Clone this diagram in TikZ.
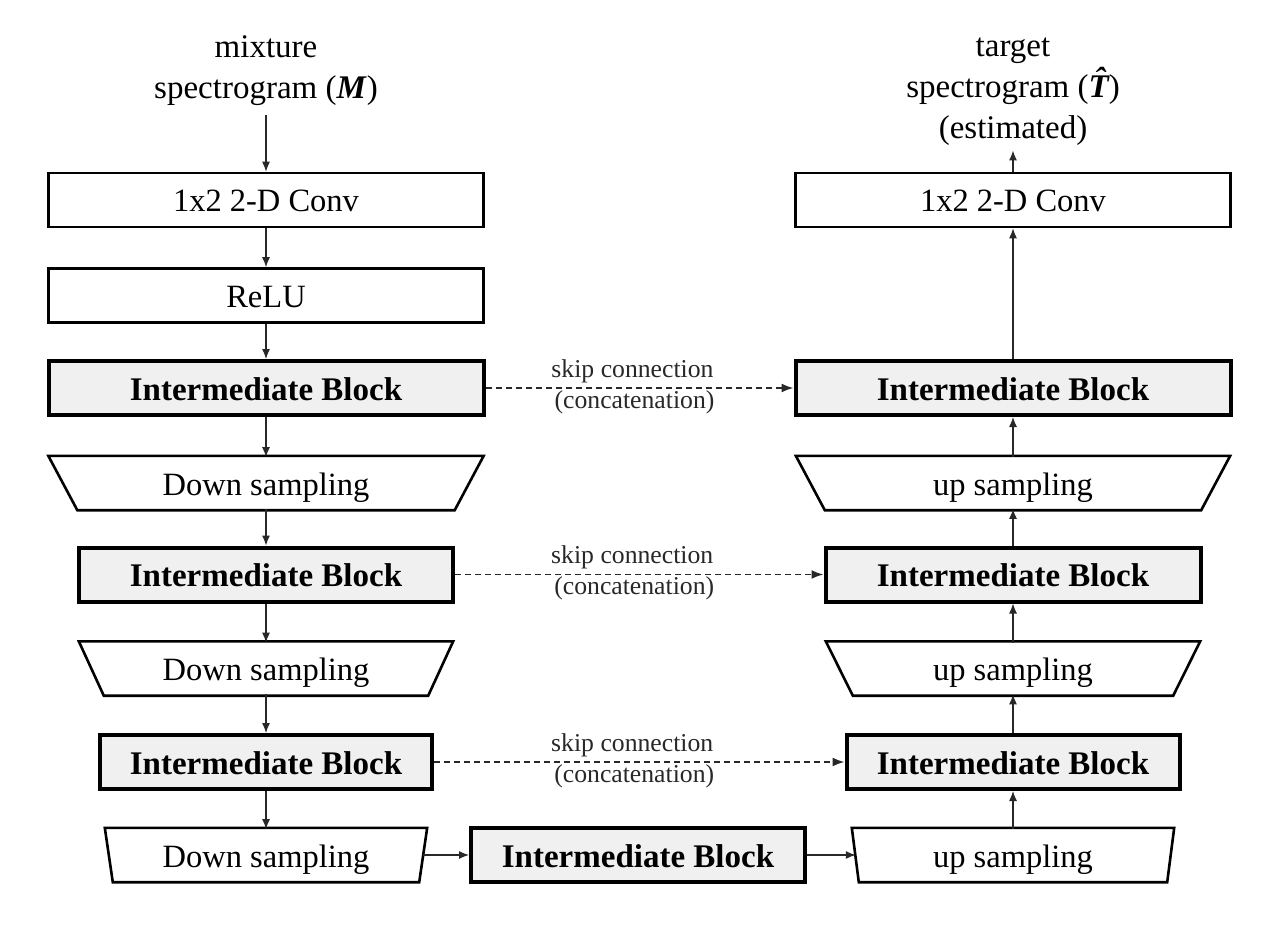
\documentclass[tikz,border=0pt]{standalone}
\usepackage{fontspec}
\setmainfont{Liberation Serif}
\usetikzlibrary{arrows.meta,calc}
\definecolor{ibfill}{RGB}{240,240,240}
\definecolor{linec}{RGB}{40,40,40}
\newcommand{\hatT}{{\bfseries\itshape\makebox[0pt][l]{\hspace{0.17em}\raisebox{0.2em}{\symbol{"02C6}}}T}}
\begin{document}
\begin{tikzpicture}[x=1pt,y=-1pt,
  plainbox/.style={font=\fontsize{32.5}{39}\selectfont, inner sep=0pt, text height=24pt, text depth=0pt, draw=black, line width=2.6pt, minimum height=54pt},
  ibbox/.style={font=\fontsize{33}{39}\selectfont\bfseries, inner sep=0pt, text height=24pt, text depth=0pt, draw=black, line width=4pt, fill=ibfill, minimum height=54pt},
  ghost/.style={font=\fontsize{32.5}{39}\selectfont, inner sep=0pt, text height=24pt, text depth=0pt, minimum height=54pt},
  trap/.style={draw=black, line width=2.6pt, line join=miter},
  arr/.style={draw=linec, line width=1.2pt, -{Latex[length=10pt,width=8pt]}},
  skiparr/.style={draw=linec, line width=1.8pt, dash pattern=on 6pt off 4pt, -{Latex[length=12pt,width=9pt]}},
  skiplbl/.style={font=\fontsize{25.7}{30}\selectfont, inner sep=0pt, text=linec},
  title/.style={font=\fontsize{33}{41}\selectfont, align=center, inner sep=0pt}
]
\useasboundingbox (0,0) rectangle (1264,928);

% left column
\node[title, anchor=south] (in) at (266,105.5) {mixture\\spectrogram (\textbf{\textit{M}})};
\node[plainbox, minimum width=435pt] (c1) at (266,200) {1x2 2-D Conv};
\node[plainbox, minimum width=435pt] (relu) at (266,295.5) {ReLU};
\node[ibbox, minimum width=435pt] (ib1) at (266,388) {Intermediate Block};
\node[ghost, minimum width=435pt] (d1) at (266,483) {Down sampling};
\node[ibbox, minimum width=374pt] (ib2) at (266,574.5) {Intermediate Block};
\node[ghost, minimum width=374pt] (d2) at (266,668.5) {Down sampling};
\node[ibbox, minimum width=332pt] (ib3) at (266,762) {Intermediate Block};
\node[ghost, minimum width=322pt] (d3) at (266,855) {Down sampling};

% middle
\node[ibbox, minimum width=334pt] (ibm) at (638,855) {Intermediate Block};

% right column
\node[title, anchor=south] (out) at (1013,145.5) {target\\spectrogram (\hatT)\\(estimated)};
\node[plainbox, minimum width=435pt] (c2) at (1013,200) {1x2 2-D Conv};
\node[ibbox, minimum width=435pt] (ib1r) at (1013,388) {Intermediate Block};
\node[ghost, minimum width=434pt] (u1) at (1013,483) {up sampling};
\node[ibbox, minimum width=375pt] (ib2r) at (1013,574.5) {Intermediate Block};
\node[ghost, minimum width=374pt] (u2) at (1013,668.5) {up sampling};
\node[ibbox, minimum width=333pt] (ib3r) at (1013,762) {Intermediate Block};
\node[ghost, minimum width=322pt] (u3) at (1013,855) {up sampling};

% trapezoids
\draw[trap] (d1.north west) -- (d1.north east) -- ([xshift=-29pt]d1.south east) -- ([xshift=29pt]d1.south west) -- cycle;
\draw[trap] (d2.north west) -- (d2.north east) -- ([xshift=-25pt]d2.south east) -- ([xshift=25pt]d2.south west) -- cycle;
\draw[trap] (d3.north west) -- (d3.north east) -- ([xshift=-8pt]d3.south east) -- ([xshift=8pt]d3.south west) -- cycle;
\draw[trap] (u1.north west) -- (u1.north east) -- ([xshift=-29pt]u1.south east) -- ([xshift=29pt]u1.south west) -- cycle;
\draw[trap] (u2.north west) -- (u2.north east) -- ([xshift=-27pt]u2.south east) -- ([xshift=27pt]u2.south west) -- cycle;
\draw[trap] (u3.north west) -- (u3.north east) -- ([xshift=-7pt]u3.south east) -- ([xshift=7pt]u3.south west) -- cycle;

% arrows left
\draw[arr, shorten <=10pt] (in.south) -- (c1.north);
\draw[arr] (c1.south) -- (relu.north);
\draw[arr] (relu.south) -- (ib1.north);
\draw[arr] (ib1.south) -- ([yshift=-1.3pt]d1.north);
\draw[arr] ([yshift=1.3pt]d1.south) -- (ib2.north);
\draw[arr] (ib2.south) -- ([yshift=-1.3pt]d2.north);
\draw[arr] ([yshift=1.3pt]d2.south) -- (ib3.north);
\draw[arr] (ib3.south) -- ([yshift=-1.3pt]d3.north);
% bottom row
\draw[arr] ([xshift=-4pt]d3.east) -- (ibm.west);
\draw[arr] (ibm.east) -- ([xshift=4pt]u3.west);
% arrows right
\draw[arr] ([yshift=-1.3pt]u3.north) -- (ib3r.south);
\draw[arr] (ib3r.north) -- ([yshift=1.3pt]u2.south);
\draw[arr] ([yshift=-1.3pt]u2.north) -- (ib2r.south);
\draw[arr] (ib2r.north) -- ([yshift=1.3pt]u1.south);
\draw[arr] ([yshift=-1.3pt]u1.north) -- (ib1r.south);
\draw[arr] (ib1r.north) -- (c2.south);
\draw[arr, shorten >=5pt] (c2.north) -- (out.south);

% skip connections
\draw[skiparr] (ib1.east) -- (ib1r.west)
  node[skiplbl, midway, xshift=-7pt, yshift=17pt] {skip connection}
  node[skiplbl, midway, xshift=-5pt, yshift=-14pt] {(concatenation)};
\draw[skiparr] (ib2.east) -- (ib2r.west)
  node[skiplbl, midway, xshift=-7pt, yshift=17pt] {skip connection}
  node[skiplbl, midway, xshift=-5pt, yshift=-14pt] {(concatenation)};
\draw[skiparr] (ib3.east) -- (ib3r.west)
  node[skiplbl, midway, xshift=-7pt, yshift=17pt] {skip connection}
  node[skiplbl, midway, xshift=-5pt, yshift=-14pt] {(concatenation)};
\end{tikzpicture}
\end{document}
